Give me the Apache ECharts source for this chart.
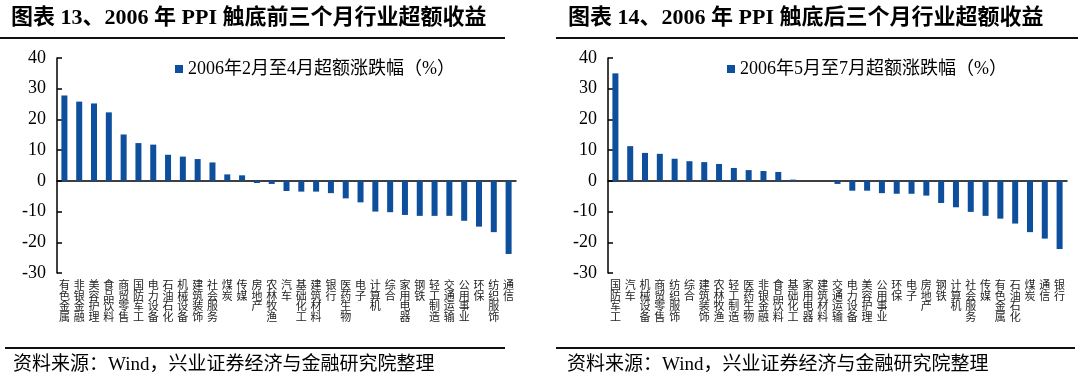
<!DOCTYPE html>
<html><head><meta charset="utf-8">
<script src="https://cdn.jsdelivr.net/npm/echarts@6/dist/echarts.min.js"></script>
<style>html,body{margin:0;padding:0;background:#fff}#c{width:1080px;height:382px}</style>
</head><body><div id="c"></div>
<script>
var titleLeft = '图表 13、2006 年 PPI 触底前三个月行业超额收益';
var titleRight = '图表 14、2006 年 PPI 触底后三个月行业超额收益';
var sourceText = '资料来源：Wind，兴业证券经济与金融研究院整理';
var seriesNameLeft = '2006年2月至4月超额涨跌幅（%）';
var seriesNameRight = '2006年5月至7月超额涨跌幅（%）';

var catsLeft = ['有色金属','非银金融','美容护理','食品饮料','商贸零售','国防军工','电力设备','石油石化','机械设备','建筑装饰','社会服务','煤炭','传媒','房地产','农林牧渔','汽车','基础化工','建筑材料','银行','医药生物','电子','计算机','综合','家用电器','钢铁','轻工制造','交通运输','公用事业','环保','纺织服饰','通信'];
var valsLeft = [27.8,25.8,25.2,22.3,15.1,12.3,11.8,8.5,7.9,7.1,6.0,2.1,1.8,-0.7,-1.0,-3.3,-3.5,-3.5,-4.0,-5.7,-7.0,-10.0,-10.2,-11.1,-11.4,-11.4,-11.4,-13.0,-14.9,-16.7,-23.8];

var catsRight = ['国防军工','汽车','机械设备','商贸零售','纺织服饰','综合','建筑装饰','农林牧渔','轻工制造','医药生物','非银金融','食品饮料','基础化工','家用电器','建筑材料','交通运输','电力设备','美容护理','公用事业','环保','电子','房地产','钢铁','计算机','社会服务','传媒','有色金属','石油石化','煤炭','通信','银行'];
var valsRight = [35.0,11.3,9.1,8.8,7.2,6.4,6.1,5.5,4.2,3.5,3.2,2.9,0.4,0.05,-0.1,-1.0,-3.2,-3.2,-4.0,-4.2,-4.2,-4.8,-7.2,-8.6,-10.1,-11.4,-12.3,-13.9,-16.7,-18.8,-22.2];

var yMin = -30, yMax = 40, yStep = 10;

var BLUE = '#0D4F9C';
var SERIF = "'Liberation Serif','Noto Sans CJK SC',serif";
var CJK = "'Noto Sans CJK SC','Liberation Serif',sans-serif";

function vert(s){ return s.split('').join('\n'); }

function xAxis(idx, cats){
  return {
    type:'category', gridIndex:idx, data:cats,
    axisLine:{onZero:true, lineStyle:{color:'#000', width:1.5}},
    axisTick:{show:false},
    axisLabel:{interval:0, formatter:vert, color:'#222', fontSize:11, lineHeight:10.5,
      fontFamily:CJK, margin:7, verticalAlign:'top'},
    splitLine:{show:false}
  };
}
function yAxis(idx){
  return {
    type:'value', gridIndex:idx, min:yMin, max:yMax, interval:yStep,
    axisLine:{show:true, onZero:false, lineStyle:{color:'#000', width:1.5}},
    axisTick:{show:true, inside:true, length:5, lineStyle:{color:'#000', width:1.5}},
    axisLabel:{color:'#000', fontSize:18, fontFamily:SERIF, margin:11},
    splitLine:{show:false}
  };
}

var chart = echarts.init(document.getElementById('c'), null, {renderer:'canvas'});
chart.setOption({
  animation:false,
  backgroundColor:'#fff',
  title:[
    {text:titleLeft, left:6, top:2, textStyle:{fontSize:22, fontWeight:'bold', color:'#000', fontFamily:SERIF}},
    {text:titleRight, left:563, top:2, textStyle:{fontSize:22, fontWeight:'bold', color:'#000', fontFamily:SERIF}},
    {text:sourceText, left:8, top:351, textStyle:{fontSize:19, fontWeight:'normal', color:'#000', fontFamily:SERIF}},
    {text:sourceText, left:562, top:351, textStyle:{fontSize:19, fontWeight:'normal', color:'#000', fontFamily:SERIF}}
  ],
  legend:[
    {data:[seriesNameLeft], left:170, top:55, icon:'rect', itemWidth:8, itemHeight:8, itemGap:6,
     textStyle:{fontSize:18, color:'#000', fontFamily:SERIF}},
    {data:[seriesNameRight], left:722, top:55, icon:'rect', itemWidth:8, itemHeight:8, itemGap:6,
     textStyle:{fontSize:18, color:'#000', fontFamily:SERIF}}
  ],
  grid:[
    {left:57, top:58, width:459, height:215},
    {left:608, top:58, width:459, height:215}
  ],
  xAxis:[xAxis(0, catsLeft), xAxis(1, catsRight)],
  yAxis:[yAxis(0), yAxis(1)],
  series:[
    {name:seriesNameLeft, type:'bar', xAxisIndex:0, yAxisIndex:0, data:valsLeft, barWidth:6, itemStyle:{color:BLUE}},
    {name:seriesNameRight, type:'bar', xAxisIndex:1, yAxisIndex:1, data:valsRight, barWidth:6, itemStyle:{color:BLUE}}
  ],
  graphic:[
    {type:'line', shape:{x1:0, y1:38, x2:505, y2:38}, style:{stroke:'#111', lineWidth:2}},
    {type:'line', shape:{x1:556, y1:38, x2:1078, y2:38}, style:{stroke:'#111', lineWidth:2}},
    {type:'line', shape:{x1:5, y1:348, x2:505, y2:348}, style:{stroke:'#111', lineWidth:2}},
    {type:'line', shape:{x1:556, y1:348, x2:1075, y2:348}, style:{stroke:'#111', lineWidth:2}}
  ]
});
</script></body></html>
